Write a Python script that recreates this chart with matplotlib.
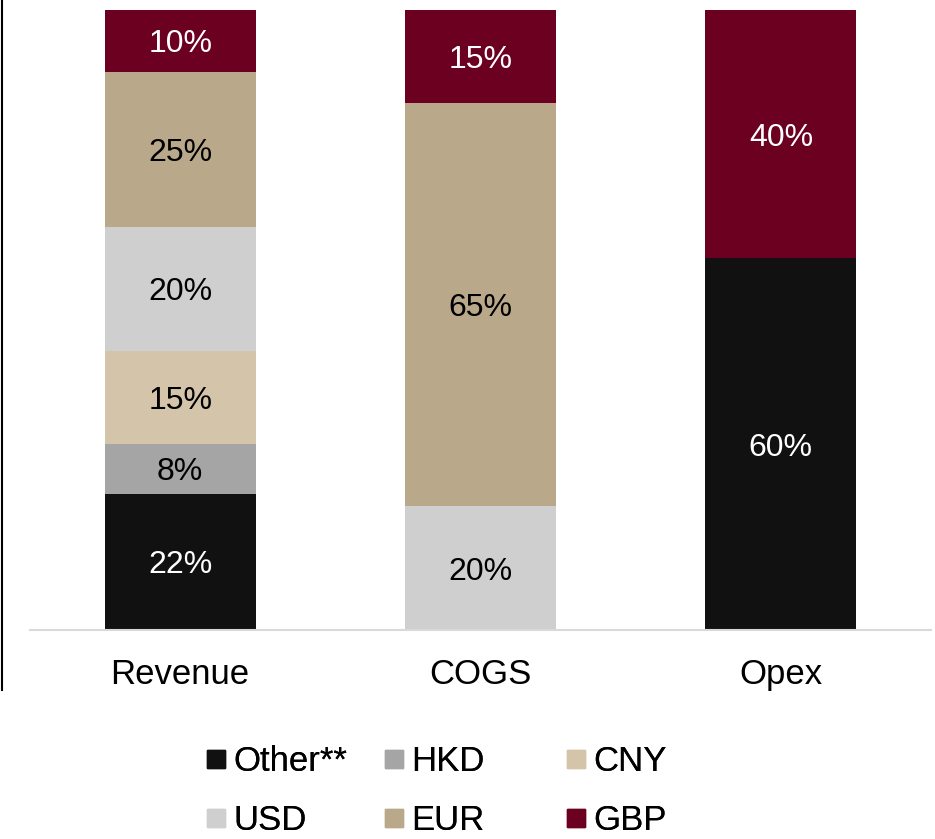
import matplotlib
matplotlib.use("Agg")
import matplotlib.pyplot as plt
from matplotlib.lines import Line2D
import numpy as np

plt.rcParams['font.family'] = ['Liberation Sans', 'DejaVu Sans']

categories = ["Revenue", "COGS", "Opex"]
series = ["Other**", "HKD", "CNY", "USD", "EUR", "GBP"]
other = [22, 0, 60]
hkd = [8, 0, 0]
cny = [15, 0, 0]
usd = [20, 20, 0]
eur = [25, 65, 0]
gbp = [10, 15, 40]
values = [other, hkd, cny, usd, eur, gbp]
colors = ["#111111", "#A5A5A5", "#D3C4AA", "#D0CFCF", "#B9A98A", "#6B0020"]
text_colors = ["white", "black", "black", "black", "black", "white"]

W, H = 935, 839
fig = plt.figure(figsize=(W / 100, H / 100), dpi=100)
ax = fig.add_axes([30 / W, 1 - 630 / H, (931 - 30) / W, 620 / H])

x = np.arange(len(categories))
bottom = np.zeros(len(categories))
for vals, col, tcol, name in zip(values, colors, text_colors, series):
    vals = np.array(vals, dtype=float)
    ax.bar(x, vals, bottom=bottom, width=0.503, color=col, label=name)
    for xi, v, b in zip(x, vals, bottom):
        if v > 0:
            ax.text(xi, b + v / 2, f"{int(v)}%", ha="center",
                    va="center_baseline", color=tcol, fontsize=23)
    bottom += vals

ax.set_xlim(-0.5, 2.5)
ax.set_ylim(0, 100)
ax.set_xticks(x)
ax.set_xticklabels(categories, fontsize=25)
ax.tick_params(axis="x", length=0, pad=20)
ax.set_yticks([])
for s in ["top", "right", "left"]:
    ax.spines[s].set_visible(False)
ax.spines["bottom"].set_color("#D9D9D9")
ax.spines["bottom"].set_linewidth(1.5)

# left edge line
fig.add_artist(Line2D([1.5 / W, 1.5 / W], [1.0, 1 - 690 / H], color="black",
                      lw=1.5, transform=fig.transFigure))

# legend: three columns
col_x = [207, 385, 567]
for c in range(3):
    idxs = [c, c + 3]
    handles = [Line2D([], [], marker="s", linestyle="none", markersize=12.5,
                      markerfacecolor=colors[i], markeredgecolor=colors[i])
               for i in idxs]
    labels = [series[i] for i in idxs]
    leg = fig.legend(handles, labels, loc="upper left",
                     bbox_to_anchor=(col_x[c] / W, 1 - 745 / H),
                     frameon=False, fontsize=25, handlelength=0.5,
                     handletextpad=0.25, labelspacing=0.74,
                     borderaxespad=0, borderpad=0)
    fig.add_artist(leg)

fig.savefig("out.png", dpi=100, facecolor="white")
